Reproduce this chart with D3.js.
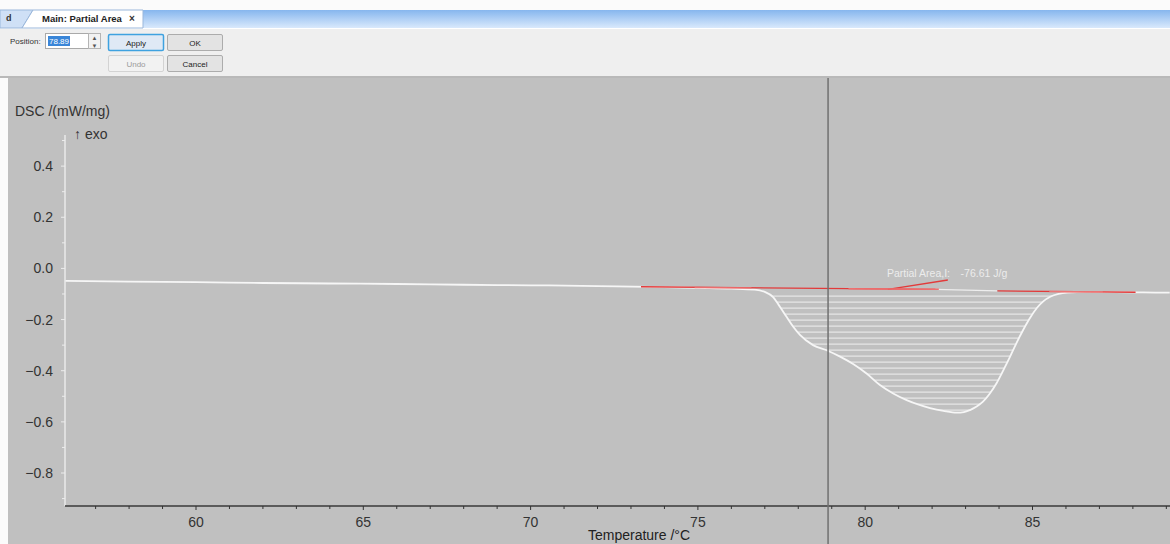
<!DOCTYPE html>
<html><head><meta charset="utf-8">
<script src="https://cdn.jsdelivr.net/npm/d3@7"></script>
<style>
html,body{margin:0;padding:0;background:#fff;}
svg{display:block;font-family:"Liberation Sans",Arial,sans-serif;}
</style></head>
<body><svg id="c" width="1170" height="544"></svg>
<script>
// ---- data ----
const temperature = [56.1,58,60,62,64,66,68,70,72,74,75,76,76.7,77.0,77.24,77.45,77.65,77.85,78.05,78.44,78.88,79.25,79.64,80.05,80.44,80.85,81.24,81.6,81.94,82.34,82.74,82.95,83.13,83.33,83.52,83.72,83.93,84.13,84.33,84.52,84.72,84.92,85.13,85.33,85.53,85.78,86.03,86.62,87.5,88.3,89.1];
const dsc = [-0.049,-0.052,-0.054,-0.057,-0.059,-0.061,-0.064,-0.066,-0.069,-0.073,-0.076,-0.079,-0.083,-0.092,-0.111,-0.150,-0.189,-0.228,-0.260,-0.300,-0.322,-0.345,-0.374,-0.412,-0.456,-0.490,-0.515,-0.533,-0.546,-0.557,-0.564,-0.562,-0.554,-0.540,-0.521,-0.490,-0.448,-0.398,-0.345,-0.292,-0.241,-0.195,-0.155,-0.128,-0.111,-0.100,-0.095,-0.092,-0.093,-0.094,-0.095];
const baselineT = [73.3, 82.1, 83.95, 88.08];
const baselineV = [-0.072, -0.082, -0.088, -0.0935];
const baselineRed = [true, false, true];
const areaRange = [76.75, 86.05];
const cursorT = 78.89;
const xTicks = [60,65,70,75,80,85];
const yTicks = [0.4,0.2,0.0,-0.2,-0.4,-0.6,-0.8];
const areaLabel = "Partial Area,I:", areaValue = "-76.61 J/g";
const labelAnchorT = [80.68, 82.47], labelAnchorV = [-0.0817, -0.0454];

// ---- layout ----
const svg = d3.select("#c");
const W = 1170, H = 544;
const x = d3.scaleLinear().domain([60, 85]).range([196, 1032.5]);
const y = d3.scaleLinear().domain([0, -0.8]).range([268.4, 473.0]);
const axisX = 65, axisY = 506, yTop = 135;

// window chrome
svg.append("rect").attr("width",W).attr("height",H).attr("fill","#fbfbfb");
const grad = svg.append("defs").append("linearGradient").attr("id","tabg").attr("x1",0).attr("x2",0).attr("y1",0).attr("y2",1);
grad.append("stop").attr("offset","0%").attr("stop-color","#86b6ee");
grad.append("stop").attr("offset","100%").attr("stop-color","#d9e9fc");
svg.append("rect").attr("x",0).attr("y",10).attr("width",W).attr("height",18).attr("fill","url(#tabg)");
svg.append("rect").attr("x",0).attr("y",28).attr("width",W).attr("height",1).attr("fill","#ffffff");
svg.append("rect").attr("x",0).attr("y",29).attr("width",W).attr("height",47).attr("fill","#efefef");
svg.append("rect").attr("x",0).attr("y",76).attr("width",W).attr("height",2).attr("fill","#b9b9b9");
// tabs
svg.append("path").attr("d","M0,10 L0,28 L22,28 L33,10 Z").attr("fill","#cfe0f6").attr("stroke","#9ab7db");
svg.append("text").attr("x",6).attr("y",21).attr("font-size",9).attr("fill","#333").attr("font-weight","bold").text("d");
svg.append("path").attr("d","M33,10 L143,10 L143,28 L22,28 Z").attr("fill","#ffffff").attr("stroke","#9ab7db");
svg.append("text").attr("x",42).attr("y",22).attr("font-size",9.5).attr("font-weight","bold").attr("fill","#222").text("Main: Partial Area");
svg.append("text").attr("x",129).attr("y",22).attr("font-size",10).attr("font-weight","bold").attr("fill","#333").text("×");
// toolbar
svg.append("text").attr("x",10).attr("y",44).attr("font-size",8).attr("fill","#333").text("Position:");
svg.append("rect").attr("x",45.5).attr("y",33.5).attr("width",43).attr("height",15).attr("fill","#fff").attr("stroke","#a9a9a9");
svg.append("rect").attr("x",48).attr("y",36).attr("width",22).attr("height",10).attr("fill","#3a86d8");
svg.append("text").attr("x",49).attr("y",44).attr("font-size",8).attr("fill","#fff").text(cursorT.toFixed(2));
svg.append("rect").attr("x",88.5).attr("y",33.5).attr("width",12).attr("height",15).attr("fill","#f2f2f2").attr("stroke","#b5b5b5");
svg.append("text").attr("x",91.5).attr("y",40).attr("font-size",6).attr("fill","#555").text("▲");
svg.append("text").attr("x",91.5).attr("y",47.5).attr("font-size",6).attr("fill","#555").text("▼");
function btn(x0,y0,label,opt){
  svg.append("rect").attr("x",x0+0.5).attr("y",y0+0.5).attr("width",55).attr("height",16).attr("rx",1.5)
    .attr("fill",opt.fill).attr("stroke",opt.stroke).attr("stroke-width",opt.sw||1);
  svg.append("text").attr("x",x0+28).attr("y",y0+11.5).attr("text-anchor","middle").attr("font-size",8).attr("fill",opt.color).text(label);
}
btn(108,34,"Apply",{fill:"#dfe9f5",stroke:"#3fa2e0",sw:1.5,color:"#222"});
btn(167,34,"OK",{fill:"#e3e3e3",stroke:"#acacac",color:"#222"});
btn(108,55,"Undo",{fill:"#f2f2f2",stroke:"#d3d3d3",color:"#9a9a9a"});
btn(167,55,"Cancel",{fill:"#e3e3e3",stroke:"#acacac",color:"#222"});

// plot panel
svg.append("rect").attr("x",8).attr("y",78).attr("width",W-8).attr("height",H-78).attr("fill","#c0c0c0");

// axes
const gy = svg.append("g");
gy.append("line").attr("x1",axisX).attr("x2",axisX).attr("y1",yTop).attr("y2",axisY).attr("stroke","#f4f4f4").attr("stroke-width",1.2);
const yMinor = d3.range(-9,6).map(d=>d/10).filter(v=>y(v)>yTop && y(v)<axisY);
yMinor.forEach(v=>{
  const major = yTicks.some(t=>Math.abs(t-v)<1e-6);
  gy.append("line").attr("x1",axisX-(major?4:3)).attr("x2",axisX).attr("y1",y(v)).attr("y2",y(v)).attr("stroke","#ececec").attr("stroke-width",1);
});
yTicks.forEach(v=>{
  gy.append("text").attr("x",53).attr("y",y(v)+5).attr("text-anchor","end").attr("font-size",14).attr("fill","#333").text(d3.format(".1f")(v));
});
svg.append("text").attr("x",15).attr("y",116).attr("font-size",14).attr("fill","#333").text("DSC /(mW/mg)");
svg.append("text").attr("x",74).attr("y",139).attr("font-size",14).attr("fill","#333").text("↑ exo");

const gx = svg.append("g");
gx.append("line").attr("x1",axisX).attr("x2",W).attr("y1",axisY).attr("y2",axisY).attr("stroke","#3a3a3a").attr("stroke-width",1.3);
d3.range(57,90).forEach(t=>{
  const major = xTicks.includes(t);
  gx.append("line").attr("x1",x(t)).attr("x2",x(t)).attr("y1",axisY).attr("y2",axisY+(major?4:3)).attr("stroke","#333").attr("stroke-width",1);
});
xTicks.forEach(t=>{
  gx.append("text").attr("x",x(t)).attr("y",527).attr("text-anchor","middle").attr("font-size",14).attr("fill","#333").text(t);
});
svg.append("text").attr("x",639).attr("y",540).attr("text-anchor","middle").attr("font-size",14).attr("fill","#222").text("Temperature /°C");

// data
const pts = temperature.map((t,i)=>[t,dsc[i]]);
const baseAt = t => {
  if (t<=baselineT[0]) return baselineV[0];
  for (let i=1;i<baselineT.length;i++){
    if (t<=baselineT[i]){const f=(t-baselineT[i-1])/(baselineT[i]-baselineT[i-1]);return baselineV[i-1]+f*(baselineV[i]-baselineV[i-1]);}
  }
  return baselineV[baselineV.length-1];
};
const line = d3.line().x(d=>x(d[0])).y(d=>y(d[1])).curve(d3.curveMonotoneX);
const areaPts = pts.filter(d=>d[0]>=areaRange[0] && d[0]<=areaRange[1]);
const area = d3.area().x(d=>x(d[0])).y0(d=>y(baseAt(d[0]))).y1(d=>y(d[1])).curve(d3.curveMonotoneX);
svg.append("clipPath").attr("id","ac").append("path").attr("d",area(areaPts));
const hatch = svg.append("g").attr("clip-path","url(#ac)");
for (let yy=y(-0.085)+6; yy<y(-0.6); yy+=6){
  hatch.append("line").attr("x1",x(areaRange[0])).attr("x2",x(areaRange[1])).attr("y1",yy).attr("y2",yy)
    .attr("stroke","#e6e6e6").attr("stroke-width",1.3);
}

svg.append("path").attr("d",line(pts)).attr("fill","none").attr("stroke","#f6f6f6").attr("stroke-width",1.8);

// baseline segments (drawn over the curve)
for (let i=0;i<baselineT.length-1;i++){
  svg.append("line").attr("x1",x(baselineT[i])).attr("x2",x(baselineT[i+1])).attr("y1",y(baselineV[i])).attr("y2",y(baselineV[i+1]))
    .attr("stroke",baselineRed[i]?"#e23a3a":"#ededed").attr("stroke-width",1.4);
}
// faint pink overlay
svg.append("line").attr("x1",x(74.9)).attr("x2",x(76.6)).attr("y1",y(-0.0745)).attr("y2",y(-0.0765)).attr("stroke","#ef7a7a").attr("stroke-width",1.6).attr("opacity",0.8);
svg.append("line").attr("x1",x(85.5)).attr("x2",x(87.1)).attr("y1",y(-0.0905)).attr("y2",y(-0.0925)).attr("stroke","#ef8585").attr("stroke-width",1.6).attr("opacity",0.8);

// annotation
svg.append("line").attr("x1",x(labelAnchorT[0])).attr("x2",x(labelAnchorT[1])).attr("y1",y(labelAnchorV[0])).attr("y2",y(labelAnchorV[1]))
  .attr("stroke","#e23a3a").attr("stroke-width",1.3);
svg.append("line").attr("x1",x(79.5)).attr("x2",x(82.2)).attr("y1",y(-0.080)).attr("y2",y(-0.082)).attr("stroke","#ef7070").attr("stroke-width",1.5);
svg.append("text").attr("x",x(80.65)).attr("y",y(-0.034)).attr("font-size",10.5).attr("fill","#ececec").text(areaLabel);
svg.append("text").attr("x",x(82.85)).attr("y",y(-0.034)).attr("font-size",10.5).attr("fill","#ececec").text(areaValue);

// cursor
svg.append("line").attr("x1",x(cursorT)).attr("x2",x(cursorT)).attr("y1",78).attr("y2",H).attr("stroke","#707070").attr("stroke-width",1.5);
</script></body></html>
